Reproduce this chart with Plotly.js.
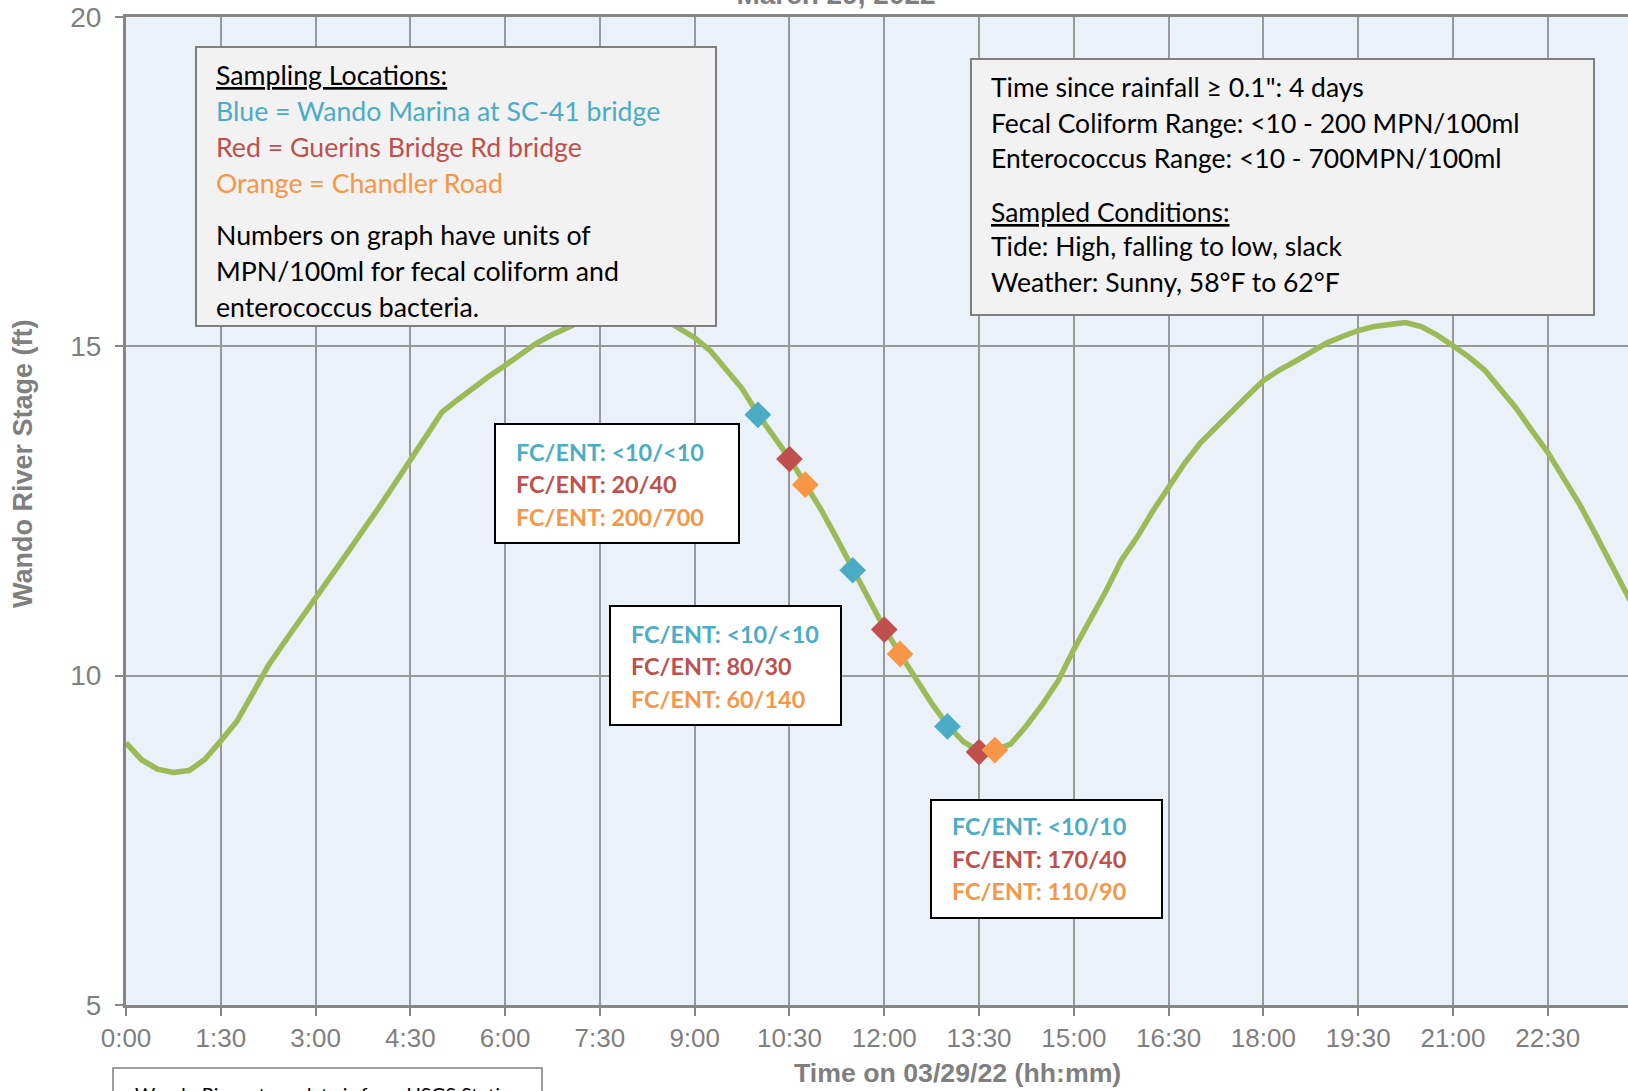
<!DOCTYPE html>
<html><head><meta charset="utf-8">
<script src="https://cdn.plot.ly/plotly-3.0.1.min.js"></script>
<style>html,body{margin:0;padding:0;overflow:hidden;background:#fff}#chart{width:1628px;height:1091px}</style>
</head><body><div id="chart"></div>
<script>
// ---------------- DATA ----------------
const stageHours = [
  0, 0.25, 0.5, 0.75,  1, 1.25, 1.5, 1.75,  2, 2.25, 2.5, 2.75,  3, 3.25, 3.5, 3.75,
  4, 4.25, 4.5, 4.75,  5, 5.25, 5.5, 5.75,  6, 6.25, 6.5, 6.75,  7, 7.25, 7.5, 7.75,
  8, 8.25, 8.5, 8.75,  9, 9.25, 9.5, 9.75,  10, 10.25, 10.5, 10.75,  11, 11.25, 11.5, 11.75,
  12, 12.25, 12.5, 12.75,  13, 13.25, 13.5, 13.75,  14, 14.25, 14.5, 14.75,  15, 15.25, 15.5, 15.75,
  16, 16.25, 16.5, 16.75,  17, 17.25, 17.5, 17.75,  18, 18.25, 18.5, 18.75,  19, 19.25, 19.5, 19.75,
  20, 20.25, 20.5, 20.75,  21, 21.25, 21.5, 21.75,  22, 22.25, 22.5, 22.75,  23, 23.25, 23.5, 23.75, 24
];
const stageFeet = [
  8.98, 8.72, 8.58, 8.53,   8.56, 8.73, 9.01, 9.30,   9.72, 10.15, 10.50, 10.85,   11.20, 11.52, 11.86, 12.19,
  12.55, 12.91, 13.28, 13.64,   14.00, 14.19, 14.38, 14.55,   14.71, 14.89, 15.05, 15.18,   15.30, 15.40, 15.48, 15.53,
  15.54, 15.50, 15.42, 15.28,   15.13, 14.93, 14.66, 14.36,   13.97, 13.63, 13.30, 12.91,   12.52, 12.08, 11.62, 11.17,
  10.72, 10.33, 9.95, 9.58,   9.25, 9.00, 8.85, 8.87,   8.96, 9.24, 9.56, 9.92,   10.40, 10.82, 11.27, 11.75,
  12.10, 12.50, 12.87, 13.22,   13.53, 13.78, 14.01, 14.25,   14.48, 14.64, 14.77, 14.91,   15.05, 15.15, 15.24, 15.30,
  15.34, 15.36, 15.30, 15.17,   15.01, 14.84, 14.64, 14.36,   14.06, 13.72, 13.39, 13.00,   12.61, 12.16, 11.70, 11.24, 10.78
];

const siteNames = ['Wando Marina at SC-41 bridge', 'Guerins Bridge Rd bridge', 'Chandler Road'];
const blueHours = [10.0, 11.5, 13.0];
const blueFeet  = [13.96, 11.60, 9.23];
const redHours  = [10.5, 12.0, 13.5];
const redFeet   = [13.29, 10.70, 8.84];
const orangeHours = [10.75, 12.25, 13.75];
const orangeFeet  = [12.90, 10.33, 8.87];

// FC/ENT results per sampling round (blue, red, orange)
const round1 = ['FC/ENT: <10/<10', 'FC/ENT: 20/40', 'FC/ENT: 200/700'];
const round2 = ['FC/ENT: <10/<10', 'FC/ENT: 80/30', 'FC/ENT: 60/140'];
const round3 = ['FC/ENT: <10/10', 'FC/ENT: 170/40', 'FC/ENT: 110/90'];

const xTickVals = [0, 1.5, 3, 4.5, 6, 7.5, 9, 10.5, 12, 13.5, 15, 16.5, 18, 19.5, 21, 22.5];
const xTickText = ['0:00','1:30','3:00','4:30','6:00','7:30','9:00','10:30','12:00','13:30','15:00','16:30','18:00','19:30','21:00','22:30'];
const yTickVals = [5, 10, 15, 20];

const legendLines = ['<u>Sampling Locations:</u>', 'Blue = ' + siteNames[0], 'Red = ' + siteNames[1], 'Orange = ' + siteNames[2],
  'Numbers on graph have units of', 'MPN/100ml for fecal coliform and', 'enterococcus bacteria.'];
const infoLines = ['Time since rainfall \u2265 0.1": 4 days', 'Fecal Coliform Range: <10 - 200 MPN/100ml', 'Enterococcus Range: <10 - 700MPN/100ml',
  '<u>Sampled Conditions:</u>', 'Tide: High, falling to low, slack', 'Weather: Sunny, 58\u00b0F to 62\u00b0F'];
const sourceNote = 'Wando River stage data is from USGS Station';

// ---------------- STYLE / LAYOUT ----------------
const W = 1628, H = 1091, ML = 126, MR = 0, MT = 17, MB = 86;
const PW = W - ML - MR, PH = H - MT - MB;
const fx = x => (x - ML) / PW;
const fy = y => (H - MB - y) / PH;

const BLUE = '#4BACC6', RED = '#C0504D', ORANGE = '#F79646', GREEN = '#9BBB59', GRAYTXT = '#7F7F7F';
const CAL = 'Lato, Carlito, sans-serif';
const ARIAL = 'Arial, "Liberation Sans", sans-serif';

function rect(x0, y0, x1, y1, fill, line, lw) {
  return {type: 'rect', xref: 'paper', yref: 'paper', x0: fx(x0), x1: fx(x1), y0: fy(y1), y1: fy(y0),
          fillcolor: fill, line: {color: line, width: lw}, layer: 'above'};
}
function textLine(text, x, baseline, size, color, family, weight) {
  return {xref: 'paper', yref: 'paper', x: fx(x), y: fy(baseline - 0.387 * size), xanchor: 'left', yanchor: 'middle',
          text: text, showarrow: false, align: 'left',
          font: {family: family, size: size, color: color, weight: weight || 'normal'}};
}

const shapes = [
  rect(196, 47, 716, 326, '#F2F2F2', '#7F7F7F', 2),
  rect(971, 59, 1594, 315, '#F2F2F2', '#7F7F7F', 2),
  rect(495, 424, 739, 543, '#FFFFFF', '#000000', 2),
  rect(610, 606, 841, 725, '#FFFFFF', '#000000', 2),
  rect(931, 800, 1162, 918, '#FFFFFF', '#000000', 2),
  rect(113, 1068, 542, 1130, '#FFFFFF', '#7F7F7F', 1.5)
];

const legendColors = ['#000000', BLUE, RED, ORANGE, '#000000', '#000000', '#000000'];
const legendBase = [85, 121, 157, 193, 245, 281, 317];
const infoBase = [97, 133, 168, 222, 256, 292];
const roundColors = [BLUE, RED, ORANGE];

const annotations = [];
legendLines.forEach((t, i) => annotations.push(textLine(t, 214, legendBase[i], 26.7, legendColors[i], CAL)));
infoLines.forEach((t, i) => annotations.push(textLine(t, 989, infoBase[i], 26.5, '#000000', CAL)));
round1.forEach((t, i) => annotations.push(textLine(t, 514, [461, 493, 526][i], 23.4, roundColors[i], CAL, 'bold')));
round2.forEach((t, i) => annotations.push(textLine(t, 629, [643, 675, 708][i], 23.4, roundColors[i], CAL, 'bold')));
round3.forEach((t, i) => annotations.push(textLine(t, 950, [835, 868, 900][i], 23.4, roundColors[i], CAL, 'bold')));
annotations.push(textLine(sourceNote, 133, 1102, 19.5, '#000000', CAL));
// axis titles
annotations.push({xref: 'paper', yref: 'paper', x: fx(23), y: fy(464), xanchor: 'center', yanchor: 'middle', textangle: -90,
  text: 'Wando River Stage (ft)', showarrow: false, font: {family: ARIAL, size: 27, color: GRAYTXT, weight: 'bold'}});
annotations.push({xref: 'paper', yref: 'paper', x: fx(958), y: fy(1073), xanchor: 'center', yanchor: 'middle',
  text: 'Time on 03/29/22 (hh:mm)', showarrow: false, font: {family: ARIAL, size: 26.7, color: GRAYTXT, weight: 'bold'}});

const markerStyle = c => ({symbol: 'diamond', size: 20.5, color: c, line: {width: 0}});
const traces = [
  {x: stageHours, y: stageFeet, type: 'scatter', mode: 'lines', name: 'Wando River Stage',
   line: {color: GREEN, width: 5.5}, showlegend: false, hoverinfo: 'skip'},
  {x: blueHours, y: blueFeet, type: 'scatter', mode: 'markers', name: siteNames[0], marker: markerStyle(BLUE), showlegend: false},
  {x: redHours, y: redFeet, type: 'scatter', mode: 'markers', name: siteNames[1], marker: markerStyle(RED), showlegend: false},
  {x: orangeHours, y: orangeFeet, type: 'scatter', mode: 'markers', name: siteNames[2], marker: markerStyle(ORANGE), showlegend: false}
];

const layout = {
  width: W, height: H,
  margin: {l: ML, r: MR, t: MT, b: MB, pad: 0},
  paper_bgcolor: '#FFFFFF', plot_bgcolor: '#EBF1F8',
  title: {text: 'March 29, 2022', xref: 'container', yref: 'container', x: 836 / W, xanchor: 'center',
          y: 1 - 4 / H, yanchor: 'bottom', font: {family: ARIAL, size: 28, color: GRAYTXT, weight: 'bold'}},
  showlegend: false,
  xaxis: {range: [0, 23.77], tickvals: xTickVals, ticktext: xTickText,
          showgrid: true, gridcolor: '#999999', gridwidth: 2,
          showline: true, linecolor: '#868686', linewidth: 3, mirror: true,
          ticks: 'outside', ticklen: 8, tickwidth: 2, tickcolor: '#868686',
          tickfont: {family: ARIAL, size: 26, color: GRAYTXT}, zeroline: false, fixedrange: true},
  yaxis: {range: [5, 20], tickvals: yTickVals, showgrid: true, gridcolor: '#999999', gridwidth: 2,
          showline: true, linecolor: '#868686', linewidth: 3,
          ticks: 'outside', ticklen: 8, tickwidth: 2, tickcolor: '#868686', ticklabelstandoff: 8,
          tickfont: {family: ARIAL, size: 28, color: GRAYTXT}, zeroline: false, fixedrange: true},
  shapes: shapes,
  annotations: annotations,
  hovermode: false
};

Plotly.newPlot('chart', traces, layout, {displayModeBar: false, staticPlot: true});
</script>
</body></html>
